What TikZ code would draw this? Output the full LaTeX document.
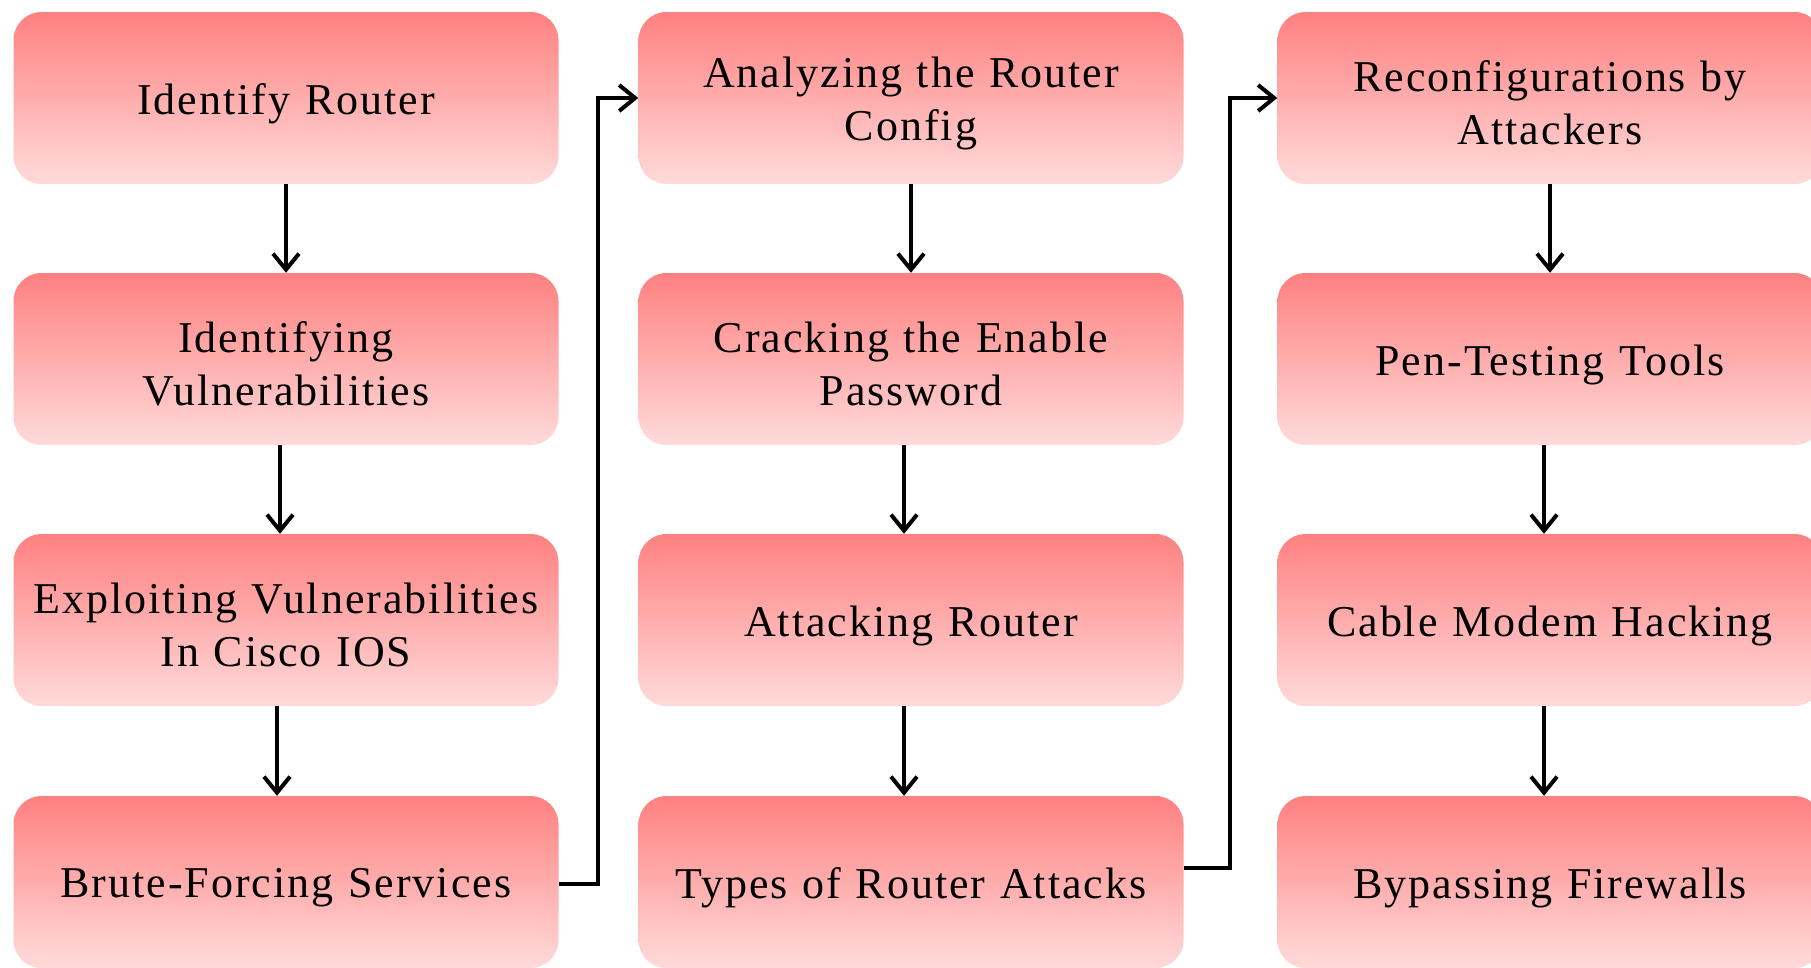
\documentclass[tikz,border=0pt]{standalone}
\usepackage{fontspec}
\setmainfont[LetterSpace=4.5]{Liberation Serif}
\usetikzlibrary{arrows.meta,calc}
\definecolor{boxtop}{RGB}{255,128,128}
\definecolor{boxbot}{RGB}{255,218,218}
\tikzset{
  stepbox/.style={rounded corners=28pt, top color=boxtop, bottom color=boxbot, draw=none,
    minimum width=545pt, minimum height=172pt, inner sep=0pt},
  steptext/.style={text width=535pt, align=center, inner sep=0pt,
    font=\fontsize{44}{53}\selectfont},
  conn/.style={line width=4pt, -{Straight Barb[length=16pt,width=26pt,line width=4pt]}}
}
\begin{document}
\begin{tikzpicture}[x=1pt,y=-1pt]
\useasboundingbox (0,0) rectangle (1811,967);
\fill[white] (0,0) rectangle (1811,967);
% column 1
\node[stepbox] (a1) at (286,98) {};
\node[stepbox] (a2) at (286,359) {};
\node[stepbox] (a3) at (286,620) {};
\node[stepbox] (a4) at (286,882) {};
% column 2
\node[stepbox] (b1) at (911,98) {};
\node[stepbox] (b2) at (911,359) {};
\node[stepbox] (b3) at (911,620) {};
\node[stepbox] (b4) at (911,882) {};
% column 3
\node[stepbox] (c1) at (1550,98) {};
\node[stepbox] (c2) at (1550,359) {};
\node[stepbox] (c3) at (1550,620) {};
\node[stepbox] (c4) at (1550,882) {};
% texts
\node[steptext] (ta1) at ([yshift=-6pt]a1.center) {Identify Router};
\node[steptext] (ta2) at ([yshift=-5pt]a2.center) {Identifying\\Vulnerabilities};
\node[steptext] (ta3) at ([yshift=-5pt]a3.center) {Exploiting Vulnerabilities\\In Cisco IOS};
\node[steptext] (ta4) at ([yshift=-6pt]a4.center) {Brute-Forcing Services};
\node[steptext] (tb1) at ([yshift=-5pt]b1.center) {Analyzing the Router\\Config};
\node[steptext] (tb2) at ([yshift=-5pt]b2.center) {Cracking the Enable\\Password};
\node[steptext] (tb3) at ([yshift=-6pt]b3.center) {Attacking Router};
\node[steptext] (tb4) at ([yshift=-6pt]b4.center) {Types of Router Attacks};
\node[steptext] (tc1) at ([yshift=-5pt]c1.center) {Reconfigurations by\\Attackers};
\node[steptext] (tc2) at ([yshift=-6pt]c2.center) {Pen-Testing Tools};
\node[steptext] (tc3) at ([yshift=-6pt]c3.center) {Cable Modem Hacking};
\node[steptext] (tc4) at ([yshift=-6pt]c4.center) {Bypassing Firewalls};
% vertical arrows
\draw[conn] (a1.south) -- (a2.north);
\draw[conn] ([xshift=-6pt]a2.south) -- ([xshift=-6pt]a3.north);
\draw[conn] ([xshift=-9pt]a3.south) -- ([xshift=-9pt]a4.north);
\draw[conn] (b1.south) -- (b2.north);
\draw[conn] ([xshift=-7pt]b2.south) -- ([xshift=-7pt]b3.north);
\draw[conn] ([xshift=-7pt]b3.south) -- ([xshift=-7pt]b4.north);
\draw[conn] (c1.south) -- (c2.north);
\draw[conn] ([xshift=-6pt]c2.south) -- ([xshift=-6pt]c3.north);
\draw[conn] ([xshift=-6pt]c3.south) -- ([xshift=-6pt]c4.north);
% elbow connectors
\coordinate (e1) at (598,0);
\coordinate (e2) at (1230,0);
\draw[conn] ([yshift=-2pt]a4.east) -| (e1 |- b1.west) -- (b1.west);
\draw[conn] ([yshift=14pt]b4.east) -| (e2 |- c1.west) -- (c1.west);
\end{tikzpicture}
\end{document}
